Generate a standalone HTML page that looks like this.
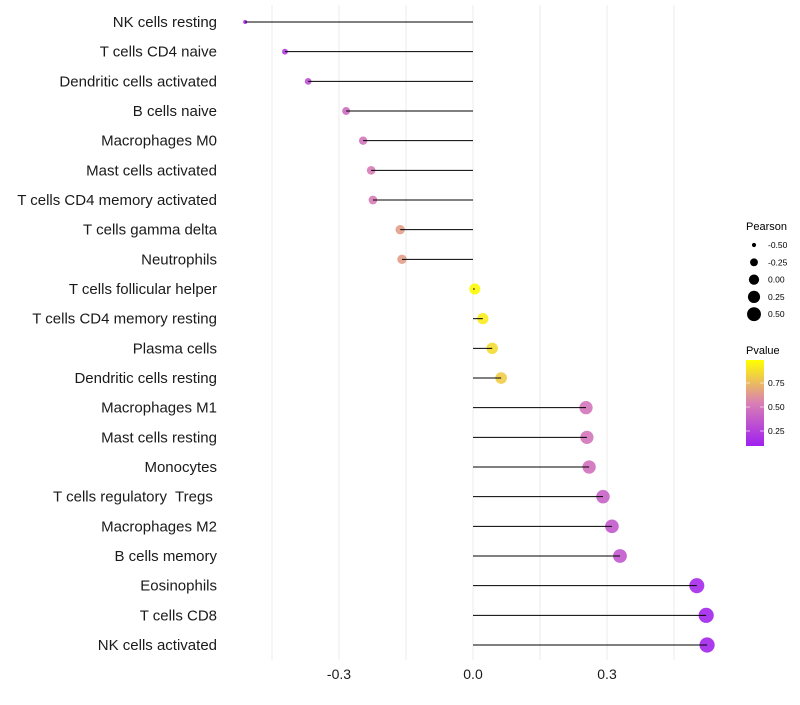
<!DOCTYPE html>
<html><head><meta charset="utf-8"><style>
body{margin:0;background:#fff;font-family:"Liberation Sans",sans-serif;}
text{white-space:pre;}
</style></head><body>
<svg id="chart" width="800" height="700" xmlns="http://www.w3.org/2000/svg">
<defs><linearGradient id="pg" x1="0" y1="1" x2="0" y2="0">
<stop offset="0" stop-color="#A020F0"/><stop offset="0.5" stop-color="#D97FB4"/><stop offset="1" stop-color="#FFFF00"/></linearGradient></defs>
<g id="grid"></g><g id="dots"></g><g id="marks"></g><g id="labels"></g><g id="legend"></g>
</svg>
<script>
const categories=["NK cells resting","T cells CD4 naive","Dendritic cells activated","B cells naive","Macrophages M0","Mast cells activated","T cells CD4 memory activated","T cells gamma delta","Neutrophils","T cells follicular helper","T cells CD4 memory resting","Plasma cells","Dendritic cells resting","Macrophages M1","Mast cells resting","Monocytes","T cells regulatory  Tregs ","Macrophages M2","B cells memory","Eosinophils","T cells CD8","NK cells activated"];
const pearson=[-0.510,-0.421,-0.369,-0.284,-0.246,-0.228,-0.224,-0.163,-0.159,0.004,0.022,0.043,0.063,0.253,0.255,0.26,0.291,0.311,0.329,0.501,0.522,0.524];
const pvalue=[0.03,0.15,0.25,0.40,0.45,0.48,0.48,0.62,0.62,0.98,0.92,0.86,0.80,0.45,0.45,0.42,0.35,0.30,0.30,0.05,0.03,0.03];
const xTicks=[-0.3,0.0,0.3];
const xGrid=[-0.45,-0.3,-0.15,0,0.15,0.3,0.45];
const legendPearson=[-0.5,-0.25,0,0.25,0.5];
const legendP=[0.75,0.5,0.25];
const NS="http://www.w3.org/2000/svg";
const X=v=>473+v*446.7;
const Y=i=>22+i*29.667;
const R=v=>Math.sqrt(Math.max(0,4+(v+0.51)*52));
const RL=v=>Math.sqrt(2.2+(v+0.55)/1.1*48);
function lerp(a,b,t){return a.map((x,k)=>Math.round(x+(b[k]-x)*t));}
function col(p){const c0=[160,32,240],c1=[217,127,180],c2=[255,255,0];
 const c=p<0.5?lerp(c0,c1,p/0.5):lerp(c1,c2,(p-0.5)/0.5);return `rgb(${c})`;}
function mk(tag,attrs,parent){const e=document.createElementNS(NS,tag);for(const k in attrs)e.setAttribute(k,attrs[k]);parent.appendChild(e);return e;}
const grid=document.getElementById('grid'),dots=document.getElementById('dots'),marks=document.getElementById('marks'),labels=document.getElementById('labels'),leg=document.getElementById('legend');
xGrid.forEach(v=>{const l=mk('line',{x1:X(v),x2:X(v),y1:5,y2:660,stroke:'#ebebeb','stroke-width':1},grid);

});
categories.forEach((c,i)=>{
 const t=mk('text',{x:217,y:Y(i)+5,'text-anchor':'end','font-size':15,fill:'#1a1a1a'},labels);t.textContent=c;
 
 
 const d=mk('circle',{cx:X(pearson[i]),cy:Y(i),r:R(pearson[i]),fill:col(pvalue[i]),'fill-opacity':0.9},dots);
 
 
 const s=mk('line',{x1:X(0),x2:X(pearson[i]),y1:Y(i),y2:Y(i),stroke:'#000','stroke-width':1},marks);
 
 
});
xTicks.forEach(v=>{const t=mk('text',{x:X(v),y:679,'text-anchor':'middle','font-size':14,fill:'#1a1a1a'},labels);t.textContent=v.toFixed(1);

});
let t=mk('text',{x:746,y:230,'font-size':11,fill:'#000'},leg);t.textContent='Pearson';


legendPearson.forEach((v,i)=>{const y=245+i*17.3;
 const c=mk('circle',{cx:754,cy:y,r:RL(v),fill:'#000'},leg);
 
 
 const l=mk('text',{x:768,y:y+3,'font-size':8.5,fill:'#000'},leg);l.textContent=v.toFixed(2);
 
 });
t=mk('text',{x:746,y:354,'font-size':11,fill:'#000'},leg);t.textContent='Pvalue';


const bar=mk('rect',{x:746,y:360,width:18,height:86,fill:'url(#pg)'},leg);


legendP.forEach(v=>{const y=455-v*96;
 mk('line',{x1:746,x2:750,y1:y,y2:y,stroke:'#fff','stroke-opacity':0.6},leg);
 mk('line',{x1:760,x2:764,y1:y,y2:y,stroke:'#fff','stroke-opacity':0.6},leg);
 const l=mk('text',{x:768,y:y+3,'font-size':8.5,fill:'#000'},leg);l.textContent=v.toFixed(2);
 
 });
</script>
</body></html>
